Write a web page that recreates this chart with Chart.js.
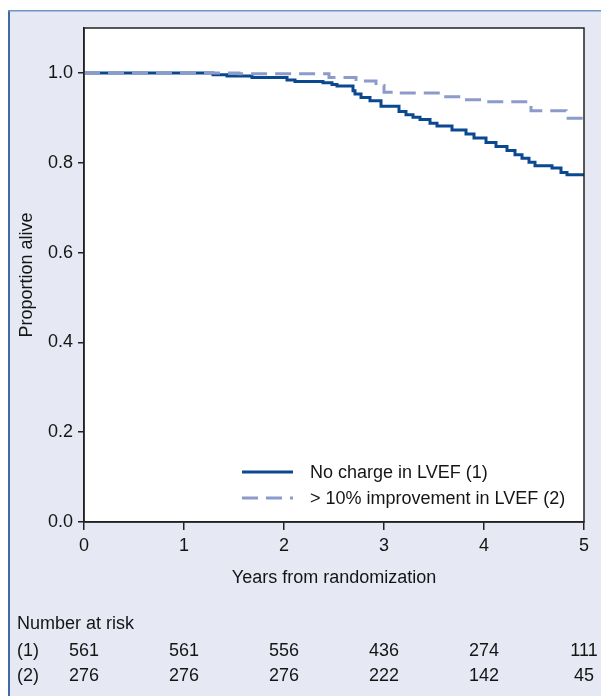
<!DOCTYPE html>
<html>
<head>
<meta charset="utf-8">
<script src="https://cdn.jsdelivr.net/npm/chart.js@4.4.1/dist/chart.umd.min.js"></script>
<style>
  html, body { margin: 0; padding: 0; background: #ffffff; }
  canvas { display: block; }
</style>
</head>
<body>
<canvas id="c" width="601" height="696"></canvas>
<script>
// ---- Data ----
const seriesNames = ['No charge in LVEF (1)', '> 10% improvement in LVEF (2)'];

// Kaplan-Meier steps: time (years) and survival from that time on
const noChangeTimes = [0, 1.29, 1.43, 1.68, 2.03, 2.11, 2.39, 2.48, 2.53, 2.69, 2.71, 2.77, 2.86, 2.97, 3.15, 3.22, 3.29, 3.36, 3.46, 3.53, 3.68, 3.82, 3.90, 4.02, 4.12, 4.23, 4.31, 4.38, 4.45, 4.51, 4.68, 4.77, 4.83, 5.0];
const noChangeSurv  = [1.0, 0.996, 0.993, 0.990, 0.984, 0.981, 0.978, 0.974, 0.971, 0.960, 0.953, 0.945, 0.938, 0.926, 0.914, 0.907, 0.901, 0.896, 0.888, 0.882, 0.873, 0.864, 0.855, 0.845, 0.836, 0.827, 0.818, 0.810, 0.801, 0.793, 0.788, 0.778, 0.773, 0.773];

const improvedTimes = [0, 1.55, 2.45, 2.72, 2.92, 3.00, 3.10, 3.58, 3.78, 4.00, 4.47, 4.82, 5.0];
const improvedSurv  = [1.0, 0.998, 0.990, 0.982, 0.972, 0.957, 0.955, 0.947, 0.940, 0.936, 0.916, 0.899, 0.899];

// Number at risk table
const riskTitle = 'Number at risk';
const riskTimes = [0, 1, 2, 3, 4, 5];
const riskLabels = ['(1)', '(2)'];
const riskNoChange = [561, 561, 556, 436, 274, 111];
const riskImproved = [276, 276, 276, 222, 142, 45];

const yTickValues = [0, 0.2, 0.4, 0.6, 0.8, 1.0];
const xTitle = 'Years from randomization';
const yTitle = 'Proportion alive';

// ---- Styling ----
const FONT = "'Liberation Sans Narrow', 'Arial Narrow', 'Liberation Sans', sans-serif";
const TEXT = '#151515';
const SOLID = '#0a4890';
const DASHED = '#8c9bcc';
const BG = '#e6e8f3';

const toPts = (xs, ys) => xs.map((x, i) => ({ x: x, y: ys[i] }));

const framePlugin = {
  id: 'frame',
  beforeDraw(chart) {
    const ctx = chart.ctx;
    ctx.save();
    ctx.fillStyle = '#ffffff';
    ctx.fillRect(0, 0, chart.width, chart.height);
    ctx.fillStyle = BG;
    ctx.fillRect(8, 10, chart.width - 8, chart.height - 10);
    // panel border
    ctx.fillStyle = '#3d6ba9';
    ctx.fillRect(8, 10, 2, chart.height - 10);
    ctx.fillStyle = '#6f93c3';
    ctx.fillRect(8, 10, chart.width - 8, 1.5);
    const a = chart.chartArea;
    ctx.fillStyle = '#ffffff';
    ctx.fillRect(a.left, a.top, a.right - a.left, a.bottom - a.top);
    ctx.restore();
  },
  afterDraw(chart) {
    const ctx = chart.ctx;
    const a = chart.chartArea;
    ctx.save();
    ctx.strokeStyle = '#222222';
    ctx.lineWidth = 1.5;
    ctx.strokeRect(a.left, a.top, a.right - a.left, a.bottom - a.top);

    // legend inside the plot
    const ds = chart.data.datasets;
    const legendRows = [{ y: 472, d: ds[1] }, { y: 498, d: ds[0] }];
    ctx.font = '18px ' + FONT;
    ctx.textBaseline = 'middle';
    ctx.textAlign = 'left';
    legendRows.forEach(r => {
      ctx.beginPath();
      ctx.strokeStyle = r.d.borderColor;
      ctx.lineWidth = r.d.borderWidth;
      ctx.setLineDash(r.d.borderDash || []);
      ctx.moveTo(242, r.y);
      ctx.lineTo(293, r.y);
      ctx.stroke();
      ctx.setLineDash([]);
      ctx.fillStyle = TEXT;
      ctx.fillText(r.d.label, 310, r.y + 1);
    });

    // number at risk table
    const xs = chart.scales.x;
    ctx.fillStyle = TEXT;
    ctx.textAlign = 'left';
    ctx.fillText(riskTitle, 17, 624);
    const rows = [{ lab: riskLabels[0], vals: riskNoChange, y: 651 }, { lab: riskLabels[1], vals: riskImproved, y: 676 }];
    rows.forEach(r => {
      ctx.textAlign = 'left';
      ctx.fillText(r.lab, 17, r.y);
      ctx.textAlign = 'center';
      r.vals.forEach((v, i) => {
        const px = xs.getPixelForValue(riskTimes[i]);
        ctx.fillText(String(v), px, r.y);
      });
    });
    ctx.restore();
  }
};

new Chart(document.getElementById('c'), {
  type: 'line',
  data: {
    datasets: [
      {
        label: seriesNames[1],
        data: toPts(improvedTimes, improvedSurv),
        borderColor: DASHED,
        borderWidth: 3,
        borderDash: [16, 8],
        stepped: true,
        pointRadius: 0,
        fill: false,
        order: 0
      },
      {
        label: seriesNames[0],
        data: toPts(noChangeTimes, noChangeSurv),
        borderColor: SOLID,
        borderWidth: 3,
        stepped: true,
        pointRadius: 0,
        fill: false,
        order: 1
      }
    ]
  },
  options: {
    responsive: false,
    animation: false,
    devicePixelRatio: 1,
    layout: { padding: { left: 10, right: 17, top: 28, bottom: 104 } },
    plugins: { legend: { display: false }, tooltip: { enabled: false } },
    scales: {
      x: {
        type: 'linear',
        min: 0, max: 5,
        ticks: { stepSize: 1, color: TEXT, font: { family: FONT, size: 18 }, padding: 5, maxRotation: 0 },
        grid: { drawOnChartArea: false, drawTicks: true, tickLength: 8, color: '#222222', lineWidth: 1.5 },
        border: { display: true, color: '#222222', width: 1.5 },
        title: { display: true, text: xTitle, color: TEXT, font: { family: FONT, size: 18 }, padding: { top: 4, bottom: 3 } },
        afterFit(scale) { scale.height = 70; }
      },
      y: {
        type: 'linear',
        min: 0, max: 1.1,
        ticks: { stepSize: 0.2, color: TEXT, font: { family: FONT, size: 18 }, padding: 5,
                 callback: v => Number(v).toFixed(1) },
        afterBuildTicks(scale) { scale.ticks = yTickValues.map(v => ({ value: v })); },
        grid: { drawOnChartArea: false, drawTicks: true, tickLength: 6, color: '#222222', lineWidth: 1.5 },
        border: { display: true, color: '#222222', width: 1.5 },
        title: { display: true, text: yTitle, color: TEXT, font: { family: FONT, size: 18 }, padding: { top: 6, bottom: 0 } },
        afterFit(scale) { scale.width = 74; }
      }
    }
  },
  plugins: [framePlugin]
});
</script>
</body>
</html>
